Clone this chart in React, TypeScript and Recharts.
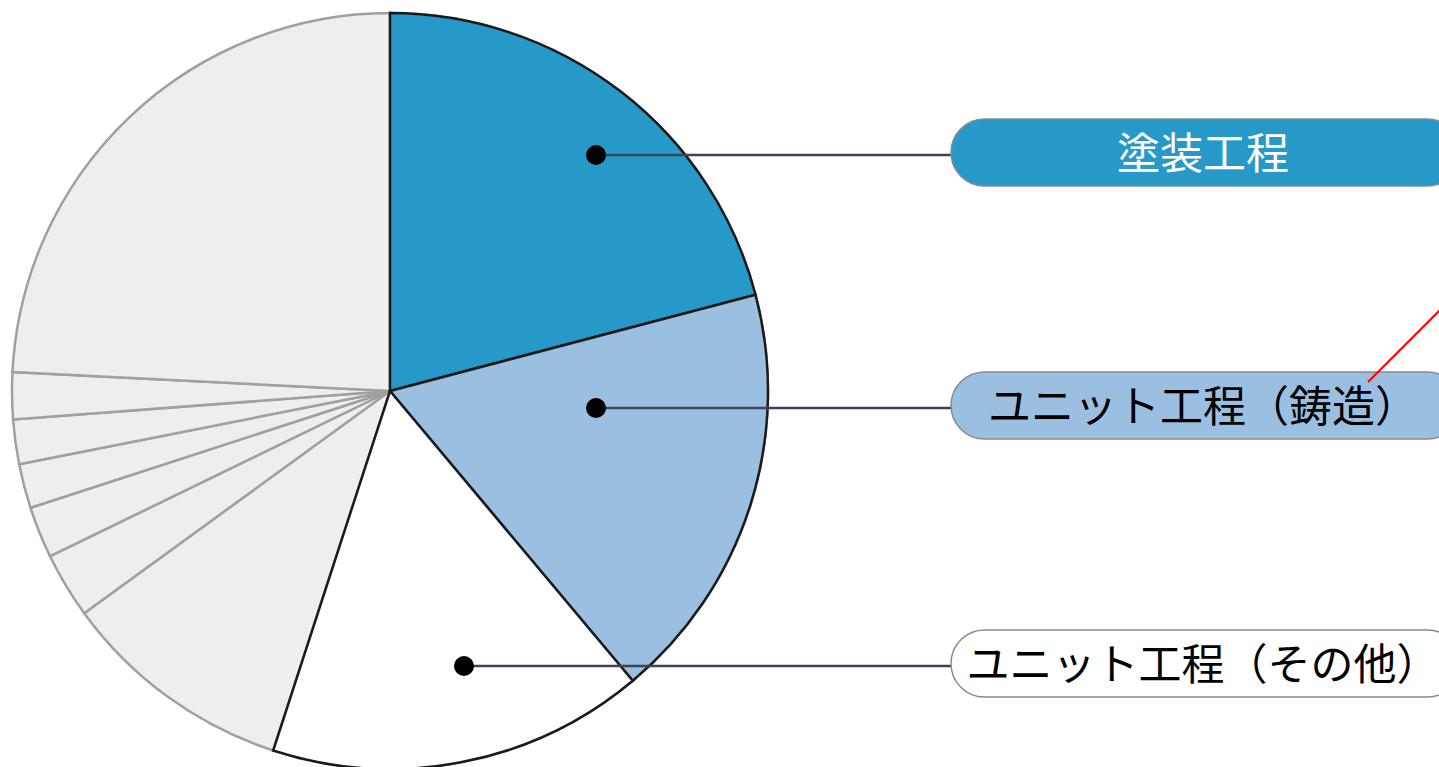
import React from 'react';
import { PieChart, Pie, Cell } from 'recharts';

// ---- data ----
const categories = [
  '塗装工程',
  'ユニット工程（鋳造）',
  'ユニット工程（その他）',
  '工程4',
  '工程5',
  '工程6',
  '工程7',
  '工程8',
  '工程9',
  '工程10',
];
const shares = [20.9, 18.0, 16.1, 10.0, 2.8, 2.2, 1.9, 1.9, 2.0, 24.2];
const highlighted = [true, true, true, false, false, false, false, false, false, false];

// ---- styles ----
const FILLS = ['#2799C9', '#9BBFE0', '#FFFFFF'];
const GREY_FILL = '#EDEEEE';
const GREY_STROKE = '#A0A0A0';
const DARK_STROKE = '#1A1A1A';
const FONT = '"Noto Sans CJK JP", "Noto Sans", sans-serif';

// callout layout (dot offset from pie centre)
const CALLOUTS: Record<number, { dx: number; dy: number; fill: string; text: string }> = {
  0: { dx: 206, dy: -236, fill: '#2799C9', text: '#FFFFFF' },
  1: { dx: 206, dy: 17, fill: '#9BBFE0', text: '#000000' },
  2: { dx: 74, dy: 275, fill: '#FFFFFF', text: '#000000' },
};
const BOX_X = 951;
const BOX_W = 510;
const BOX_H = 67;

const data = categories.map((name, i) => ({ name, value: shares[i], hi: highlighted[i] }));

const renderCallout = (props: any) => {
  const { cx, cy, index, name } = props;
  const c = CALLOUTS[index];
  if (!c) return null;
  const x = cx + c.dx;
  const y = cy + c.dy;
  const boxY = y - 36;
  return (
    <g key={`callout-${index}`}>
      <line x1={x} y1={y} x2={BOX_X} y2={y} stroke="#3B4356" strokeWidth={2.5} />
      <circle cx={x} cy={y} r={10} fill="#000000" />
      <rect
        x={BOX_X}
        y={boxY}
        width={BOX_W}
        height={BOX_H}
        rx={BOX_H / 2}
        ry={BOX_H / 2}
        fill={c.fill}
        stroke="#8A8A8A"
        strokeWidth={1.5}
      />
      <text
        x={BOX_X + BOX_W / 2 - 3}
        y={boxY + BOX_H / 2 - 3}
        textAnchor="middle"
        dominantBaseline="central"
        fill={c.text}
        fontFamily={FONT}
        fontSize={43}
      >
        {name}
      </text>
      {index === 1 && (
        <line x1={1368} y1={boxY + 10} x2={1450} y2={boxY - 72} stroke="#FF0000" strokeWidth={2} />
      )}
    </g>
  );
};

export default function App() {
  return (
    <div style={{ position: 'absolute', left: 0, top: 0, width: 1439, height: 767, background: '#FFFFFF', overflow: 'hidden' }}>
      <PieChart width={1439} height={767} margin={{ top: 0, right: 0, bottom: 0, left: 0 }}>
        <Pie
          data={data}
          dataKey="value"
          nameKey="name"
          cx={390}
          cy={391}
          outerRadius={378}
          innerRadius={0}
          startAngle={90}
          endAngle={-270}
          isAnimationActive={false}
          label={false}
          labelLine={false}
        >
          {data.map((d, i) => (
            <Cell key={`g-${i}`} fill={GREY_FILL} stroke={GREY_STROKE} strokeWidth={2.5} />
          ))}
        </Pie>
        <Pie
          data={data}
          dataKey="value"
          nameKey="name"
          cx={390}
          cy={391}
          outerRadius={378}
          innerRadius={0}
          startAngle={90}
          endAngle={-270}
          isAnimationActive={false}
          label={renderCallout}
          labelLine={false}
        >
          {data.map((d, i) => (
            <Cell
              key={`c-${i}`}
              fill={d.hi ? FILLS[i] : 'none'}
              stroke={d.hi ? DARK_STROKE : 'none'}
              strokeWidth={2.5}
            />
          ))}
        </Pie>
      </PieChart>
    </div>
  );
}
